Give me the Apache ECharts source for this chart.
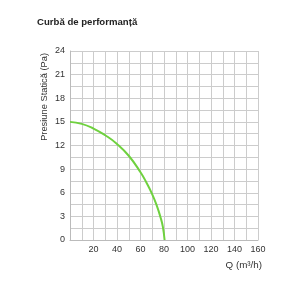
<!DOCTYPE html>
<html><head><meta charset="utf-8">
<script src="https://cdn.jsdelivr.net/npm/echarts@6/dist/echarts.min.js"></script>
<style>html,body{margin:0;padding:0;background:#fff}#c{width:307px;height:307px}</style>
</head><body><div id="c"></div>
<script>
const title = 'Curbă de performanță';
const xName = 'Q (m³/h)';
const yName = 'Presiune Statică (Pa)';
const flowQ = [0, 10, 20, 30, 40, 50, 60, 65, 70, 74, 77, 79, 80.5];
const pressure = [15, 14.75, 14.15, 13.3, 12.2, 10.7, 8.6, 7.3, 5.8, 4.3, 2.9, 1.7, 0];
const data = flowQ.map((q, i) => [q, pressure[i]]);
const chart = echarts.init(document.getElementById('c'), null, {renderer: 'canvas'});
chart.setOption({
  animation: false,
  title: {text: title, left: 32, top: 12, textStyle: {fontSize: 9.6, fontWeight: 'bold', color: '#222', fontFamily: 'Liberation Sans'}},
  grid: {left: 70, right: 49, top: 51, bottom: 67},
  xAxis: {
    type: 'value', min: 0, max: 160, interval: 10,
    name: xName, nameLocation: 'end', nameGap: 4,
    nameTextStyle: {fontSize: 9.8, color: '#333', fontFamily: 'Liberation Sans', align: 'right', verticalAlign: 'top', padding: [20, 0, 0, 0]},
    axisLine: {lineStyle: {color: '#bbb'}}, axisTick: {show: false},
    axisLabel: {fontSize: 9, color: '#333', fontFamily: 'Liberation Sans', margin: 5,
      formatter: v => (v > 0 && v % 20 === 0) ? String(v) : ''},
    splitLine: {show: true, lineStyle: {color: '#ccc', width: 1}}
  },
  yAxis: {
    type: 'value', min: 0, max: 24, interval: 1.5,
    name: yName, nameLocation: 'end', nameGap: -2, nameRotate: 90,
    nameTextStyle: {fontSize: 9.3, color: '#333', fontFamily: 'Liberation Sans', align: 'right', verticalAlign: 'bottom', padding: [0, 0, 21, 0]},
    axisLine: {show: true, lineStyle: {color: '#bbb'}}, axisTick: {show: false},
    axisLabel: {fontSize: 9, color: '#333', fontFamily: 'Liberation Sans', margin: 5,
      formatter: v => (v % 3 === 0) ? String(v) : ''},
    splitLine: {show: true, lineStyle: {color: '#ccc', width: 1}}
  },
  series: [{
    type: 'line', data: data, smooth: 0.5, showSymbol: false,
    lineStyle: {color: '#6fd13f', width: 2}
  }]
});
</script></body></html>
